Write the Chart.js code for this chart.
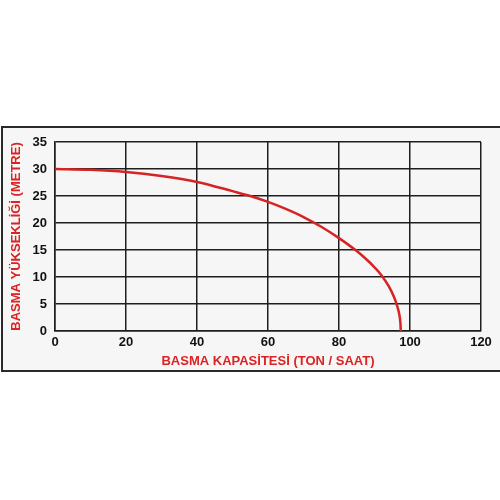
<!DOCTYPE html>
<html>
<head>
<meta charset="utf-8">
<script src="https://cdn.jsdelivr.net/npm/chart.js@4/dist/chart.umd.min.js"></script>
<style>
  html, body { margin: 0; padding: 0; background: #fff; }
  #wrap { position: relative; width: 500px; height: 500px; }
  #frame {
    position: absolute; left: 1px; top: 126px; width: 499px; height: 246px;
    background: #f6f6f6; border-top: 2px solid #2a2a2a; border-left: 2px solid #2a2a2a;
    border-bottom: 2px solid #2a2a2a; box-sizing: border-box;
  }
  canvas { position: absolute; left: 0; top: 0; }
</style>
</head>
<body>
<div id="wrap">
  <div id="frame"></div>
  <canvas id="myChart" width="500" height="500"></canvas>
</div>
<script>
// pump curve: capacity (ton/saat) vs head (metre)
const capacity = [0, 10, 20, 30, 40, 50, 55, 60, 65, 70, 75, 80, 85, 88, 90, 92, 94, 95.5, 96.5, 97, 97.3, 97.4];
const head = [30, 29.85, 29.45, 28.7, 27.6, 25.9, 25, 23.9, 22.6, 21.1, 19.3, 17.2, 14.8, 13.1, 11.8, 10.3, 8.3, 6.3, 4.4, 3, 1.5, 0];
const xTicks = [0, 20, 40, 60, 80, 100, 120];
const yTicks = [0, 5, 10, 15, 20, 25, 30, 35];

const ctx = document.getElementById('myChart');
const red = '#dc2222';
const gridColor = '#1e1e1e';

const points = capacity.map((c, i) => ({ x: c, y: head[i] }));

new Chart(ctx, {
    type: 'line',
    data: {
        datasets: [{
            data: points,
            borderColor: '#d62424',
            borderWidth: 2.5,
            pointRadius: 0,
            cubicInterpolationMode: 'monotone',
            fill: false
        }]
    },
    options: {
        responsive: false,
        animation: false,
        layout: { padding: { left: 0, top: 142, right: 19, bottom: 129 } },
        plugins: { legend: { display: false }, tooltip: { enabled: false } },
        scales: {
            x: {
                type: 'linear',
                min: xTicks[0],
                max: xTicks[xTicks.length - 1],
                afterBuildTicks: s => { s.ticks = xTicks.map(v => ({ value: v })); },
                afterFit: s => { s.height = 40; },
                grid: { color: gridColor, lineWidth: 1.5, drawTicks: false },
                border: { color: gridColor, width: 1.5 },
                ticks: { color: '#111', padding: 4, font: { family: 'Liberation Sans', size: 13, weight: 'bold' } },
                title: {
                    display: true,
                    text: 'BASMA KAPASİTESİ (TON / SAAT)',
                    color: red,
                    padding: { top: 0, bottom: 2 },
                    font: { family: 'Liberation Sans', size: 13, weight: 'bold' }
                }
            },
            y: {
                min: yTicks[0],
                max: yTicks[yTicks.length - 1],
                afterBuildTicks: s => { s.ticks = yTicks.map(v => ({ value: v })); },
                afterFit: s => { s.width = 55; },
                grid: { color: gridColor, lineWidth: 1.5, drawTicks: false },
                border: { color: gridColor, width: 1.5 },
                ticks: { color: '#111', padding: 8, font: { family: 'Liberation Sans', size: 13, weight: 'bold' } },
                title: {
                    display: true,
                    text: 'BASMA YÜKSEKLİĞİ (METRE)',
                    color: red,
                    padding: { top: 9, bottom: 0 },
                    font: { family: 'Liberation Sans', size: 13, weight: 'bold' }
                }
            }
        }
    }
});
</script>
</body>
</html>
